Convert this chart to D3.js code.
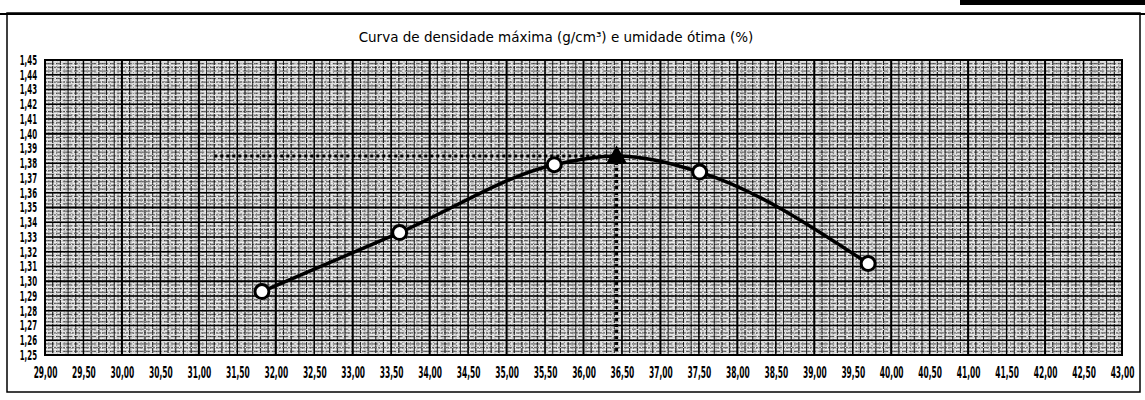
<!DOCTYPE html>
<html>
<head>
<meta charset="utf-8">
<script src="https://cdn.jsdelivr.net/npm/d3@7"></script>
<style>
  html, body { margin: 0; padding: 0; background: #fff; }
  svg { display: block; }
</style>
</head>
<body>
<svg id="chart" width="1145" height="400"></svg>
<script>
// Compaction test: moisture content (%) vs dry density (g/cm³)
const moisture = [31.82, 33.61, 35.62, 37.51, 39.70];
const density  = [1.293, 1.333, 1.379, 1.374, 1.312];

// Optimum point (maximum dry density)
const optMoisture = 36.43;
const maxDensity  = 1.385;
const guideStart  = 31.2;   // where the dotted density guide begins

// Axis ticks
const xTicks = d3.range(0, 29).map(i => 29 + i * 0.5);
const yTicks = d3.range(0, 21).map(i => +(1.25 + i * 0.01).toFixed(2));
const xTickLabels = xTicks.map(v => v.toFixed(2).replace(".", ","));
const yTickLabels = yTicks.map(v => v.toFixed(2).replace(".", ","));

const title = "Curva de densidade máxima (g/cm³) e umidade ótima (%)";

const svg = d3.select("#chart");
const W = 1145, H = 400;
const plot = { left: 45, right: 1122, top: 60, bottom: 355 };

const x = d3.scaleLinear().domain([29, 43]).range([plot.left, plot.right]);
const y = d3.scaleLinear().domain([1.25, 1.45]).range([plot.bottom, plot.top]);

// Outer frame
svg.append("rect").attr("x", 7).attr("y", 13).attr("width", 1133).attr("height", 379)
  .attr("fill", "none").attr("stroke", "#000").attr("stroke-width", 1.5);
svg.append("rect").attr("x", 960).attr("y", 0).attr("width", 185).attr("height", 5).attr("fill", "#000");
svg.append("line").attr("x1", 0).attr("x2", W).attr("y1", 14).attr("y2", 14)
  .attr("stroke", "#000").attr("stroke-width", 2);

// Title
svg.append("text")
  .attr("x", 556).attr("y", 42)
  .attr("text-anchor", "middle")
  .attr("font-family", "DejaVu Sans")
  .attr("font-size", 13.5)
  .attr("fill", "#000")
  .text(title);

// Graph-paper grid
const g = svg.append("g");
g.append("rect")
  .attr("x", plot.left).attr("y", plot.top)
  .attr("width", plot.right - plot.left).attr("height", plot.bottom - plot.top)
  .attr("fill", "#cdcdcd");

// fine horizontal rulings
const hFine = d3.range(0, 161).map(i => 1.25 + i * 0.00125);
g.selectAll("line.hfine").data(hFine).join("line")
  .attr("x1", plot.left).attr("x2", plot.right)
  .attr("y1", d => y(d)).attr("y2", d => y(d))
  .attr("stroke", "#fff").attr("stroke-width", 1)
  .attr("stroke-dasharray", (d, i) => i % 2 ? "7 2 3 1" : "1 1")
  .attr("opacity", 0.75);

// minor horizontal rulings
const hMinor = d3.range(0, 81).map(i => 1.25 + i * 0.0025);
g.selectAll("line.hminor").data(hMinor).join("line")
  .attr("x1", plot.left).attr("x2", plot.right)
  .attr("y1", d => y(d)).attr("y2", d => y(d))
  .attr("stroke", "#000").attr("stroke-width", 1)
  .attr("stroke-dasharray", (d, i) => i % 2 ? "9 2 4 3" : "2 1 5 1")
  .attr("opacity", 0.6);

// fine vertical rulings
const vFine = d3.range(0, 281).map(i => 29 + i * 0.05);
g.selectAll("line.vfine").data(vFine).join("line")
  .attr("x1", d => x(d)).attr("x2", d => x(d))
  .attr("y1", plot.top).attr("y2", plot.bottom)
  .attr("stroke", "#000").attr("stroke-width", 1)
  .attr("stroke-dasharray", (d, i) => i % 2 ? "1 2" : "3 1 1 1")
  .attr("opacity", 0.4);

// minor vertical rulings
const vMinor = d3.range(0, 141).map(i => 29 + i * 0.1);
g.selectAll("line.vminor").data(vMinor).join("line")
  .attr("x1", d => x(d)).attr("x2", d => x(d))
  .attr("y1", plot.top).attr("y2", plot.bottom)
  .attr("stroke", "#000").attr("stroke-width", 1)
  .attr("stroke-dasharray", (d, i) => i % 3 ? "5 1" : null)
  .attr("opacity", 0.75);

// major horizontal rulings
g.selectAll("line.hmajor").data(yTicks).join("line")
  .attr("x1", plot.left).attr("x2", plot.right)
  .attr("y1", d => y(d)).attr("y2", d => y(d))
  .attr("stroke", "#000")
  .attr("stroke-width", (d, i) => i % 5 === 0 ? 2 : 1.4);

// major vertical rulings
g.selectAll("line.vmajor").data(xTicks).join("line")
  .attr("x1", d => x(d)).attr("x2", d => x(d))
  .attr("y1", plot.top).attr("y2", plot.bottom)
  .attr("stroke", "#000")
  .attr("stroke-width", (d, i) => i % 2 === 0 ? 2 : 1.4);

// plot border
g.append("rect")
  .attr("x", plot.left).attr("y", plot.top)
  .attr("width", plot.right - plot.left).attr("height", plot.bottom - plot.top)
  .attr("fill", "none").attr("stroke", "#000").attr("stroke-width", 2);

// Axes (labels only), narrow bold digits
function styleLabels(sel) {
  sel.attr("font-family", "DejaVu Sans")
    .attr("font-weight", "bold")
    .attr("font-size", 15)
    .attr("fill", "#000");
}

const xAxis = d3.axisBottom(x).tickValues(xTicks)
  .tickFormat((d, i) => xTickLabels[i]).tickSize(0).tickPadding(0);
svg.append("g").attr("transform", `translate(0,${plot.bottom + 12})`).call(xAxis)
  .call(a => a.select(".domain").remove())
  .selectAll("text")
  .call(styleLabels)
  .attr("transform", "scale(0.5,1)");

const yAxis = d3.axisLeft(y).tickValues(yTicks)
  .tickFormat((d, i) => yTickLabels[i]).tickSize(0).tickPadding(0);
svg.append("g").attr("transform", `translate(${plot.left - 8},0)`).call(yAxis)
  .call(a => a.select(".domain").remove())
  .selectAll("text")
  .call(styleLabels)
  .attr("font-size", 14)
  .attr("transform", "scale(0.5,1)");

// Dotted guides to the optimum point
svg.append("line")
  .attr("x1", x(guideStart)).attr("x2", x(optMoisture))
  .attr("y1", y(maxDensity)).attr("y2", y(maxDensity))
  .attr("stroke", "#000").attr("stroke-width", 3).attr("stroke-dasharray", "3 3");
svg.append("line")
  .attr("x1", x(optMoisture)).attr("x2", x(optMoisture))
  .attr("y1", y(maxDensity)).attr("y2", plot.bottom)
  .attr("stroke", "#000").attr("stroke-width", 3).attr("stroke-dasharray", "3 3");

// Compaction curve through the test points and the optimum
const pts = moisture.map((m, i) => [m, density[i]]);
const curvePts = pts.concat([[optMoisture, maxDensity]]).sort((a, b) => a[0] - b[0]);
const line = d3.line().x(d => x(d[0])).y(d => y(d[1])).curve(d3.curveMonotoneX);
svg.append("path").datum(curvePts)
  .attr("d", line).attr("fill", "none")
  .attr("stroke", "#000").attr("stroke-width", 3.5);

// Test points
svg.selectAll("circle.pt").data(pts).join("circle")
  .attr("cx", d => x(d[0])).attr("cy", d => y(d[1])).attr("r", 7)
  .attr("fill", "#fff").attr("stroke", "#000").attr("stroke-width", 3);

// Optimum marker
svg.append("path")
  .attr("d", d3.symbol(d3.symbolTriangle, 200)())
  .attr("transform", `translate(${x(optMoisture)},${y(maxDensity) + 2})`)
  .attr("fill", "#000");
</script>
</body>
</html>
